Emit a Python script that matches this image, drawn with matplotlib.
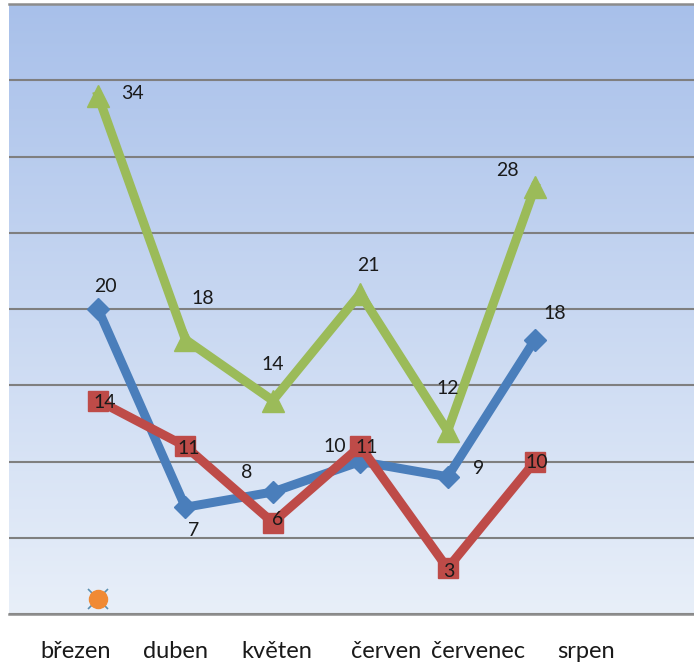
import numpy as np
import matplotlib
matplotlib.use('Agg')
import matplotlib.pyplot as plt
from matplotlib.colors import LinearSegmentedColormap

months = ['březen', 'duben', 'květen', 'červen', 'červenec', 'srpen']
blue_vals = [20, 7, 8, 10, 9, 18]
red_vals = [14, 11, 6, 11, 3, 10]
green_vals = [34, 18, 14, 21, 12, 28]
orange_vals = [1]

plt.rcParams['font.family'] = ['Lato', 'DejaVu Sans']

W, H = 694, 666
fig = plt.figure(figsize=(W / 100, H / 100), dpi=100)
ax = fig.add_axes([9 / W, (H - 614) / H, (W - 9) / W, 610 / H])

# background gradient
cmap = LinearSegmentedColormap.from_list('bg', ['#e8eff9', '#a8c0ea'])
grad = np.linspace(0, 1, 256).reshape(-1, 1)
ax.imshow(grad, aspect='auto', cmap=cmap, origin='lower',
          extent=[0, 1, 0, 1], transform=ax.transAxes, zorder=0)

ax.set_xlim((9 - 98) / 87.4, (W - 98) / 87.4)
ax.set_ylim(0, 40)
ax.set_yticks(np.arange(0, 41, 5))
ax.set_xticks([])
ax.tick_params(left=False, labelleft=False)
ax.grid(axis='y', color='#7f7f7f', linewidth=1.5, zorder=1)
for s in ['left', 'right']:
    ax.spines[s].set_visible(False)
for s in ['top', 'bottom']:
    ax.spines[s].set_color('#8c8c8c')
    ax.spines[s].set_linewidth(1.8)

x = np.arange(len(months))
ax.plot(x, green_vals, color='#9bbb59', lw=6.5, marker='^', ms=16, zorder=3)
ax.plot(x, blue_vals, color='#4a7ebb', lw=6.5, marker='D', ms=11, zorder=4)
ax.plot(x, red_vals, color='#be4b48', lw=6.5, marker='s', ms=15, zorder=5)
ax.plot(x[:1], orange_vals, ls='none', marker='x', color='#5b8fb0', ms=14, mew=1.2, zorder=5)
ax.plot(x[:1], orange_vals, ls='none', marker='o', color='#f08a34', ms=13, zorder=6)

green_off = [(34, 2), (17, 41), (0, 36), (8, 28), (0, 42), (-28, 16)]
blue_off = [(7, 22), (8, -23), (-26, 20), (-25, 15), (31, 8), (20, 26)]
red_off = [(7, -2), (3, -2), (5, 3), (7, -1), (1, -3), (2, -1)]

for vals, offs in [(green_vals, green_off), (blue_vals, blue_off), (red_vals, red_off)]:
    for xi, v, (dx, dy) in zip(x, vals, offs):
        ax.annotate(str(v), (xi, v), xytext=(dx, dy), textcoords='offset pixels',
                    ha='center', va='center', fontsize=14, color='#1a1a1a', zorder=7)

label_x_px = [76, 175, 277, 386, 478, 586]
for lx, m in zip(label_x_px, months):
    fig.text(lx / W, 1 - 652 / H, m, ha='center', va='center', fontsize=17, color='#1a1a1a')

fig.savefig('out.png', dpi=100)
